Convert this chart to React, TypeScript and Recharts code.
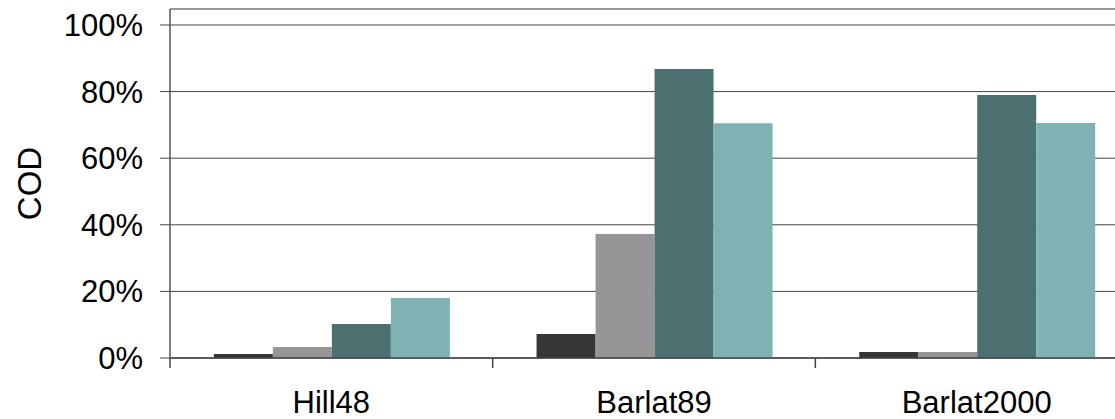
import React from 'react';
import { BarChart, Bar, XAxis, YAxis, CartesianGrid, ReferenceLine, Label } from 'recharts';

const categories = ['Hill48', 'Barlat89', 'Barlat2000'];
const seriesA = [0.012, 0.072, 0.018];
const seriesB = [0.033, 0.372, 0.018];
const seriesC = [0.102, 0.868, 0.79];
const seriesD = [0.18, 0.705, 0.706];
const yTicks = [0, 0.2, 0.4, 0.6, 0.8, 1];
const Y_MAX = 1.048;

const data = categories.map((name, i) => ({
  name,
  a: seriesA[i],
  b: seriesB[i],
  c: seriesC[i],
  d: seriesD[i],
}));

const CHART_W = 1138;
const CHART_H = 419;
const Y_AXIS_W = 170;
const BAND = (CHART_W - Y_AXIS_W) / categories.length;
const FONT = '"Liberation Sans", Arial, sans-serif';
const FS = 31;

const XTick = (props: any) => {
  const { x, y, payload } = props;
  const bx = x - BAND / 2;
  return (
    <g>
      <line x1={bx} x2={bx} y1={y} y2={y + 10} stroke="#444" strokeWidth={1.5} />
      <text x={x} y={y + 55} textAnchor="middle" fontSize={FS} fill="#000" fontFamily={FONT}>
        {payload.value}
      </text>
    </g>
  );
};

// rotated axis title, placed from the axis viewBox
const AxisTitle = (props: any) => {
  const { viewBox } = props;
  const cx = viewBox.x + 41;
  const cy = viewBox.y + viewBox.height / 2;
  return (
    <text
      x={cx}
      y={cy}
      transform={`rotate(-90, ${cx}, ${cy})`}
      textAnchor="middle"
      fontSize={33}
      fill="#000"
      fontFamily={FONT}
    >
      COD
    </text>
  );
};

const pct = (v: number) => `${Math.round(v * 100)}%`;

export default function App() {
  return (
    <div
      style={{
        position: 'fixed',
        left: 0,
        top: 0,
        width: 1115,
        height: 419,
        overflow: 'hidden',
        background: '#fff',
      }}
    >
      <BarChart
        width={CHART_W}
        height={CHART_H}
        data={data}
        margin={{ top: 9, right: 0, bottom: 0, left: 0 }}
        barCategoryGap="13.6%"
        barGap={0}
      >
        <CartesianGrid vertical={false} stroke="#444" />
        <XAxis
          dataKey="name"
          height={61}
          tickSize={0}
          tickMargin={0}
          tickLine={false}
          axisLine={{ stroke: '#444', strokeWidth: 1.5 }}
          tick={<XTick />}
          interval={0}
        />
        <YAxis
          width={Y_AXIS_W}
          domain={[0, Y_MAX]}
          ticks={yTicks}
          tickFormatter={pct}
          tickSize={10}
          tickMargin={17}
          axisLine={{ stroke: '#555', strokeWidth: 1.5 }}
          tickLine={{ stroke: '#444' }}
          tick={{ fontSize: FS, fill: '#000', fontFamily: FONT }}
          allowDataOverflow
        >
          <Label content={<AxisTitle />} position="center" />
        </YAxis>
        <ReferenceLine y={Y_MAX} stroke="#999" strokeWidth={2} />
        <Bar dataKey="a" fill="#363636" isAnimationActive={false} />
        <Bar dataKey="b" fill="#969696" isAnimationActive={false} />
        <Bar dataKey="c" fill="#4C7070" isAnimationActive={false} />
        <Bar dataKey="d" fill="#7FB2B2" isAnimationActive={false} />
      </BarChart>
    </div>
  );
}
